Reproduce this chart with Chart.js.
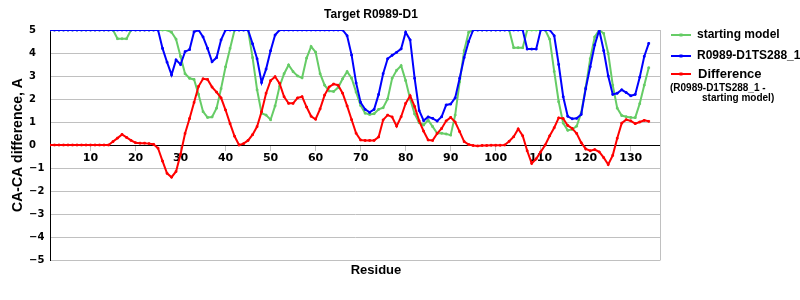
<!DOCTYPE html>
<html>
<head>
<meta charset="utf-8">
<script src="https://cdn.jsdelivr.net/npm/chart.js@4/dist/chart.umd.min.js"></script>
<style>
  body { margin: 0; background: #fff; }
  #wrap { width: 800px; height: 300px; position: relative; }
</style>
</head>
<body>
<div id="wrap"><canvas id="chart"></canvas></div>
<script>
// данные (остатки 1..134)
const residues = Array.from({ length: 134 }, (_, i) => i + 1);

const startingModel = [
  5, 5, 5, 5, 5, 5, 5, 5, 5, 5,
  5, 5, 5, 5, 5, 4.62, 4.62, 4.62, 5, 5,
  5, 5, 5, 5, 5, 5, 5, 4.9, 4.6, 3.85,
  3.1, 2.9, 2.85, 2.2, 1.45, 1.2, 1.22, 1.6, 2.45, 3.4,
  4.2, 5, 5, 5, 5, 3.8, 2.4, 1.38, 1.3, 1.1,
  1.7, 2.55, 3.1, 3.48, 3.19, 3.0, 2.92, 3.78, 4.28, 4.04,
  3.1, 2.6, 2.35, 2.33, 2.5, 2.88, 3.19, 2.9, 2.3, 1.72,
  1.38, 1.33, 1.36, 1.55, 1.62, 2.0, 2.9, 3.25, 3.45, 2.8,
  2.0, 1.35, 0.97, 0.87, 1.08, 0.8, 0.51, 0.51, 0.48, 0.43,
  1.3, 2.75, 4.1, 4.9, 5, 5, 5, 5, 5, 5,
  5, 5, 5, 4.23, 4.23, 4.23, 5, 5, 5, 5,
  5, 4.6, 3.2, 1.88, 0.95, 0.64, 0.68, 0.82, 1.4, 2.5,
  3.75, 4.7, 5, 4.85, 3.98, 2.6, 1.6, 1.28, 1.23, 1.2,
  1.19, 1.8, 2.6, 3.36
];

const modelTS288 = [
  5, 5, 5, 5, 5, 5, 5, 5, 5, 5,
  5, 5, 5, 5, 5, 5, 5, 5, 5, 5,
  5, 5, 5, 5, 5, 4.2, 3.6, 3.05, 3.7, 3.5,
  4.06, 4.15, 4.92, 5, 4.7, 4.2, 3.62, 3.8, 4.57, 5,
  5, 5, 5, 5, 5, 4.4, 3.75, 2.72, 3.3, 4.1,
  4.78, 5, 5, 5, 5, 5, 5, 5, 5, 5,
  5, 5, 5, 5, 5, 5, 4.75, 3.91, 2.7, 1.85,
  1.55, 1.42, 1.55, 2.2, 3.1, 3.75, 3.9, 4.03, 4.18, 4.9,
  4.57, 2.9, 1.5, 1.06, 1.22, 1.16, 1.04, 1.23, 1.74, 1.78,
  2.05, 2.9, 3.8, 4.5, 5, 5, 5, 5, 5, 5,
  5, 5, 5, 5, 5, 5, 4.17, 4.17, 4.17, 5,
  5, 5, 4.75, 3.5, 2.1, 1.25, 1.14, 1.16, 1.33, 2.45,
  3.4, 4.35, 5, 4.1, 3.0, 2.2, 2.25, 2.4, 2.28, 2.14,
  2.2, 2.95, 3.85, 4.42
];

const difference = [
  0, 0, 0, 0, 0, 0, 0, 0, 0, 0,
  0, 0, 0, 0, 0.15, 0.3, 0.46, 0.33, 0.2, 0.1,
  0.08, 0.08, 0.06, 0.03, -0.14, -0.7, -1.23, -1.4, -1.15, -0.4,
  0.5, 1.15, 1.85, 2.55, 2.88, 2.85, 2.52, 2.3, 2.05, 1.52,
  0.93, 0.38, 0.0, 0.06, 0.2, 0.45, 0.8, 1.45, 2.25, 2.8,
  2.97, 2.68, 2.1, 1.81, 1.81, 2.05, 2.1, 1.65, 1.25, 1.12,
  1.57, 2.17, 2.52, 2.65, 2.6, 2.25, 1.7, 1.1, 0.51, 0.22,
  0.2, 0.2, 0.2, 0.35, 1.09, 1.3, 1.22, 0.82, 1.23, 1.81,
  2.14, 1.67, 1.05, 0.6, 0.22, 0.2, 0.5, 0.72, 1.05, 1.2,
  1.0, 0.58, 0.15, 0.02, -0.02, -0.04, -0.02, -0.02, -0.01, -0.01,
  -0.01, 0.0, 0.16, 0.36, 0.7, 0.4, -0.25, -0.8, -0.6, -0.3,
  0.0, 0.4, 0.75, 1.18, 1.15, 0.85, 0.72, 0.5, 0.1, -0.17,
  -0.25, -0.2, -0.3, -0.55, -0.85, -0.45, 0.29, 0.95, 1.1, 1.05,
  0.93, 1.0, 1.07, 1.03
];

const xTickValues = [10, 20, 30, 40, 50, 60, 70, 80, 90, 100, 110, 120, 130];
const seriesNames = ['starting model', 'R0989-D1TS288_1', 'Difference'];
const seriesColors = ['#66CC66', '#0000FF', '#FF0000'];

const labelFont = 'bold 12px "Liberation Sans", Arial, sans-serif';

// заголовки, легенда и рамка рисуются вручную, как в Excel
const decorPlugin = {
  id: 'decor',
  afterDraw(chart) {
    const { ctx, chartArea: a } = chart;
    ctx.save();

    // правая граница области построения
    ctx.strokeStyle = '#c0c0c0';
    ctx.lineWidth = 1;
    ctx.beginPath();
    ctx.moveTo(a.right + 0.5, a.top);
    ctx.lineTo(a.right + 0.5, a.bottom + 0.5);
    ctx.stroke();

    ctx.fillStyle = '#000';
    ctx.textBaseline = 'middle';

    // заголовок
    ctx.font = labelFont;
    ctx.textAlign = 'center';
    ctx.fillText('Target R0989-D1', 371, 15);

    // подписи осей
    ctx.font = 'bold 13px "Liberation Sans", Arial, sans-serif';
    ctx.fillText('Residue', 376, 270);
    ctx.save();
    ctx.translate(18, (a.top + a.bottom) / 2);
    ctx.rotate(-Math.PI / 2);
    ctx.font = 'bold 14px "Liberation Sans", Arial, sans-serif';
    ctx.fillText('CA-CA difference, A', 0, 0);
    ctx.restore();

    // легенда
    const rows = [35, 56, 74];
    rows.forEach((y, i) => {
      ctx.strokeStyle = seriesColors[i];
      ctx.lineWidth = 2;
      ctx.beginPath();
      ctx.moveTo(671, y);
      ctx.lineTo(691, y);
      ctx.stroke();
      ctx.fillStyle = seriesColors[i];
      ctx.fillRect(679.5, y - 1.5, 3, 3);
    });
    ctx.fillStyle = '#000';
    ctx.textAlign = 'left';
    ctx.font = labelFont;
    ctx.fillText(seriesNames[0], 697, rows[0]);
    ctx.fillText(seriesNames[1], 697, rows[1]);
    ctx.font = 'bold 13px "Liberation Sans", Arial, sans-serif';
    ctx.fillText(seriesNames[2], 698, rows[2]);
    ctx.font = 'bold 10px "Liberation Sans", Arial, sans-serif';
    ctx.fillText('(R0989-D1TS288_1 -', 670, 88);
    ctx.fillText('starting model)', 702, 98);

    ctx.restore();
  }
};

function makeDataset(name, values, color, order) {
  return {
    label: name,
    data: residues.map((r, i) => ({ x: r, y: values[i] })),
    borderColor: color,
    backgroundColor: color,
    borderWidth: 2,
    pointRadius: 1.2,
    pointStyle: 'rect',
    pointBorderWidth: 1,
    tension: 0,
    order: order
  };
}

const ctx = document.getElementById('chart').getContext('2d');
new Chart(ctx, {
  type: 'line',
  data: {
    datasets: [
      makeDataset(seriesNames[0], startingModel, seriesColors[0], 2),
      makeDataset(seriesNames[1], modelTS288, seriesColors[1], 1),
      makeDataset(seriesNames[2], difference, seriesColors[2], 0)
    ]
  },
  options: {
    responsive: true,
    maintainAspectRatio: false,
    animation: false,
    layout: {
      padding: { left: 29, right: 140, top: 30, bottom: 40 }
    },
    plugins: {
      legend: { display: false },
      title: { display: false },
      tooltip: { enabled: false }
    },
    scales: {
      x: {
        type: 'linear',
        position: { y: 0 },
        min: 1,
        max: 136.5,
        afterBuildTicks: (scale) => {
          scale.ticks = xTickValues.map(v => ({ value: v }));
        },
        grid: {
          drawOnChartArea: false,
          drawTicks: true,
          tickLength: 5,
          color: '#c0c0c0'
        },
        border: { color: '#000', width: 1 },
        ticks: {
          autoSkip: false,
          maxRotation: 0,
          padding: 2,
          color: '#000',
          font: { family: 'DejaVu Sans', size: 11, weight: 'bold' }
        }
      },
      y: {
        min: -5,
        max: 5,
        afterFit: (scale) => { scale.width = 21; },
        grid: {
          drawTicks: false,
          color: (c) => (c.tick && c.tick.value === 0 ? '#000' : '#c0c0c0')
        },
        border: { color: '#000', width: 1 },
        ticks: {
          stepSize: 1,
          crossAlign: 'far',
          color: '#000',
          font: { family: 'DejaVu Sans', size: 10, weight: 'bold' },
          callback: (v) => (v < 0 ? '\u2212' + Math.abs(v) : String(v))
        }
      }
    }
  },
  plugins: [decorPlugin]
});
</script>
</body>
</html>
